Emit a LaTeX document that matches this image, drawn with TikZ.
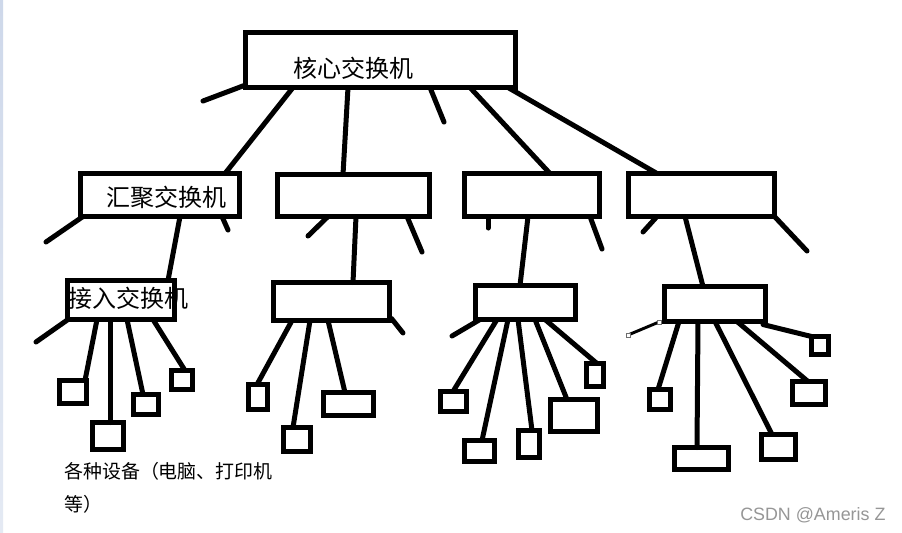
\documentclass[tikz,border=0pt]{standalone}
\usepackage{fontspec}
\setmainfont{Liberation Sans}
\newfontfamily\cjk{Noto Sans CJK SC}
\usetikzlibrary{fit,calc}
\definecolor{stripc}{RGB}{206,216,234}
\definecolor{wmark}{RGB}{150,150,150}
\definecolor{handle}{RGB}{110,110,110}
\tikzset{
  box/.style={draw=black, line width=3.9pt, rectangle, inner sep=0pt, outer sep=0pt},
  wire/.style={draw=black, line width=3.75pt, line cap=round},
  thinwire/.style={draw=black, line width=2.2pt},
  bigtxt/.style={font=\cjk\fontsize{18}{20}\selectfont, inner sep=0pt},
  smalltxt/.style={font=\cjk\fontsize{14.2}{24.75}\selectfont, inner sep=0pt, align=left, anchor=north west},
  handlebox/.style={draw=handle, fill=white, line width=0.6pt, minimum size=3pt, inner sep=0pt}
}
\newcommand\bx[5]{\node[box, fit={(#2,#3) (#4,#5)}] (#1) {};}
\newcommand\conn[4]{\draw[wire] ($(#1.south west)+(#2,0)$) -- ($(#3.north west)+(#4,0)$);}
\begin{document}
\begin{tikzpicture}[x=0.75pt,y=-0.75pt]
\useasboundingbox (0,0) rectangle (902,532);
\fill[white] (0,0) rectangle (902,532);
\shade[top color=stripc, bottom color=stripc!55!white] (0,0) rectangle (3,532);

% boxes
\bx{core}{245.5}{32.5}{515.5}{87.5}
\bx{agg1}{80.5}{173.5}{239.5}{216.5}
\bx{agg2}{277.5}{174.5}{429.5}{216.5}
\bx{agg3}{464.5}{173.5}{599.5}{216.5}
\bx{agg4}{628.5}{173.5}{774.5}{216.5}
\bx{acc1}{67.5}{280.5}{174.5}{319.5}
\bx{acc2}{273.5}{282.5}{389.5}{320.5}
\bx{acc3}{475.5}{285.5}{575.5}{319.5}
\bx{acc4}{664.5}{286.5}{765.5}{321.5}
\bx{d11}{59.5}{380.5}{86.5}{403.5}
\bx{d12}{92.5}{422.5}{123.5}{449.5}
\bx{d13}{133.5}{394.5}{158.5}{414.5}
\bx{d14}{171.5}{370.5}{192.5}{389.5}
\bx{d21}{248.5}{384.5}{267.5}{409.5}
\bx{d22}{283.5}{427.5}{310.5}{451.5}
\bx{d23}{323.5}{392.5}{373.5}{415.5}
\bx{d31}{440.5}{391.5}{466.5}{411.5}
\bx{d32}{464.5}{440.5}{494.5}{461.5}
\bx{d33}{518.5}{430.5}{539.5}{457.5}
\bx{d34}{550.5}{399.5}{597.5}{431.5}
\bx{d35}{586.5}{363.5}{603.5}{386.5}
\bx{d41}{649.5}{389.5}{670.5}{409.5}
\bx{d42}{674.5}{447.5}{728.5}{469.5}
\bx{d43}{761.5}{434.5}{795.5}{459.5}
\bx{d44}{792.5}{381.5}{825.5}{404.5}
\bx{d45}{811.5}{336.5}{828.5}{354.5}

% labels
\node[bigtxt] (tcore) at (353,68) {核心交换机};
\node[bigtxt] (tagg) at (166,197) {汇聚交换机};
\node[bigtxt] (tacc) at (128,298) {接入交换机};
\node[smalltxt] (tdev) at (64,462) {各种设备（电脑、打印机\\等）};
\node[font=\fontsize{13.4}{15}\selectfont, text=wmark, inner sep=0pt, anchor=west] (wm) at (740,515) {CSDN @Ameris Z};

% free ends of stubs
\coordinate (s0) at (203,101);
\coordinate (s1) at (444,122);
\coordinate (s2) at (46,242);
\coordinate (s3) at (228,230);
\coordinate (s4) at (308,236);
\coordinate (s5) at (422,252);
\coordinate (s6) at (488,228);
\coordinate (s7) at (602,249);
\coordinate (s8) at (643,232);
\coordinate (s9) at (807,251);
\coordinate (s10) at (36,342);
\coordinate (s11) at (403,333);
\coordinate (s12) at (452,336);
\coordinate (s13) at (628,335);
\coordinate (s14) at (659,322);

% core connectors
\conn{core}{47.5}{agg1}{144.5}
\conn{core}{102.5}{agg2}{65.5}
\conn{core}{224.5}{agg3}{85.5}
\conn{core}{262.5}{agg4}{28.5}
\draw[wire] ($(core.south west)+(0,-2.5)$) -- (s0);
\draw[wire] ($(core.south west)+(184.5,0)$) -- (s1);

% aggregation connectors
\draw[wire] ($(agg1.south west)+(2.5,0)$) -- (s2);
\conn{agg1}{99.5}{acc1}{100.5}
\draw[wire] ($(agg1.south west)+(141.5,0)$) -- (s3);
\draw[wire] ($(agg2.south west)+(50.5,0)$) -- (s4);
\conn{agg2}{78.5}{acc2}{79.5}
\draw[wire] ($(agg2.south west)+(129.5,0)$) -- (s5);
\draw[wire] ($(agg3.south west)+(23.5,0)$) -- (s6);
\conn{agg3}{63.5}{acc3}{44.5}
\draw[wire] ($(agg3.south west)+(125.5,0)$) -- (s7);
\draw[wire] ($(agg4.south west)+(28.5,0)$) -- (s8);
\conn{agg4}{56.5}{acc4}{38.5}
\draw[wire] (agg4.south east) -- (s9);

% access connectors
\draw[wire] ($(acc1.south west)+(0.5,0)$) -- (s10);
\conn{acc1}{29.5}{d11}{25.5}
\conn{acc1}{42.5}{d12}{17.5}
\conn{acc1}{59.5}{d13}{9.5}
\conn{acc1}{85.5}{d14}{13.5}
\draw[wire] ($(acc2.south east)+(2,-2)$) -- (s11);
\conn{acc2}{18.5}{d21}{8.5}
\conn{acc2}{36.5}{d22}{9.5}
\conn{acc2}{54.5}{d23}{21.5}
\draw[wire] ($(acc3.south west)+(4.5,0)$) -- (s12);
\conn{acc3}{21.5}{d31}{12.5}
\conn{acc3}{32.5}{d32}{17.5}
\conn{acc3}{42.5}{d33}{13.5}
\conn{acc3}{59.5}{d34}{16.5}
\conn{acc3}{69.5}{d35}{10.5}
\draw[thinwire] (s14) -- (s13);
\node[handlebox] (h1) at (s13) {};
\node[handlebox] (h2) at (s14) {};
\conn{acc4}{14.5}{d41}{8.5}
\conn{acc4}{33.5}{d42}{22.5}
\conn{acc4}{50.5}{d43}{10.5}
\conn{acc4}{72.5}{d44}{15.5}
\draw[wire] ($(acc4.south west)+(98.5,3)$) -- (d45.north west);
\end{tikzpicture}
\end{document}
